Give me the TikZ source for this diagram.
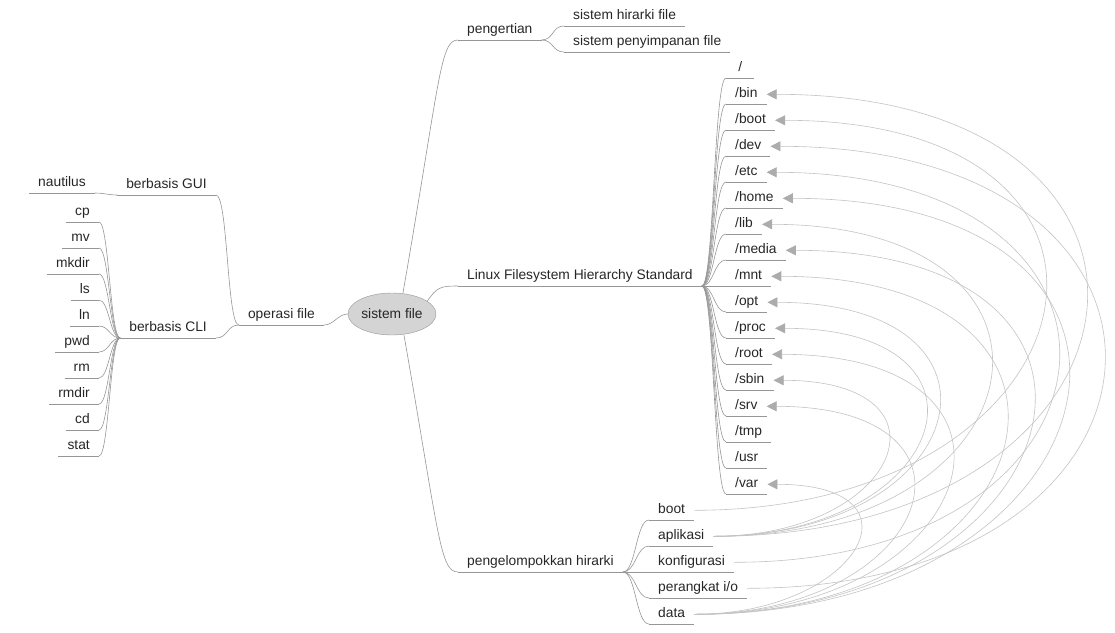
\documentclass[tikz,border=0pt]{standalone}
\usepackage{fontspec}
\setmainfont{Liberation Sans}
\definecolor{edgegray}{RGB}{150,150,150}
\definecolor{linkgray}{RGB}{195,195,195}
\definecolor{tipgray}{RGB}{172,172,172}
\definecolor{rootfill}{RGB}{212,212,212}
\usetikzlibrary{arrows.meta, shapes.geometric}

\begin{document}
\begin{tikzpicture}[x=1pt, y=-1pt,
  font=\fontsize{13.8}{16}\selectfont,
  branch/.style={draw=edgegray, line width=0.6pt},
  topic/.style={inner xsep=9pt, inner ysep=3pt, text height=10pt, text depth=3pt,
    minimum width=28pt, text=black!85,
    append after command={(\tikzlastnode.south west) edge[branch] (\tikzlastnode.south east)}},
  link/.style={draw=linkgray, line width=0.6pt,
    -{Triangle[length=10pt, width=10pt, color=tipgray]}}]
  \useasboundingbox (0,0) rectangle (1115,632);

  \node[ellipse, draw=edgegray, fill=rootfill, minimum width=88pt, minimum height=42pt,
    inner sep=0pt, text=black!85] (root) at (392,314) {sistem file};

  % kiri
  \node[topic, anchor=south east] (operasi) at (324,325) {operasi file};
  \node[topic, anchor=south east] (gui) at (216,195) {berbasis GUI};
  \node[topic, anchor=south east] (cli) at (216,338) {berbasis CLI};
  \node[topic, anchor=south east] (nautilus) at (95,193) {nautilus};
  \foreach \c [count=\i from 0] in {cp,mv,mkdir,ls,ln,pwd,rm,rmdir,cd,stat}
    \node[topic, anchor=south east] (\c) at (99,{222+26*\i}) {\c};

  % kanan
  \node[topic, anchor=south west] (pengertian) at (458,40) {pengertian};
  \node[topic, anchor=south west] (hirarki) at (564,26) {sistem hirarki file};
  \node[topic, anchor=south west] (penyimpanan) at (564,52) {sistem penyimpanan file};
  \node[topic, anchor=south west] (lfhs) at (458,286) {Linux Filesystem Hierarchy Standard};
  \node[topic, anchor=south west] (dslash) at (726,78) {/};
  \foreach \d [count=\i] in {bin,boot,dev,etc,home,lib,media,mnt,opt,proc,root,sbin,srv,tmp,usr,var}
    \node[topic, anchor=south west] (d\d) at (726,{78+26*\i}) {/\d};
  \node[topic, anchor=south west] (kelompok) at (458,572) {pengelompokkan hirarki};
  \node[topic, anchor=south west] (gboot) at (649,520) {boot};
  \node[topic, anchor=south west] (gapp) at (649,546) {aplikasi};
  \node[topic, anchor=south west] (gconf) at (649,572) {konfigurasi};
  \node[topic, anchor=south west] (gio) at (649,598) {perangkat i/o};
  \node[topic, anchor=south west] (gdata) at (649,624) {data};

  \draw[branch] ([xshift=11pt]root.north) .. controls +(37,-213) and +(-18,0) .. (pengertian.south west);
  \draw[branch] (root.20) .. controls +(10,-14) and +(-18,0) .. (lfhs.south west);
  \draw[branch] ([xshift=12pt]root.south) .. controls +(35,200) and +(-18,0) .. (kelompok.south west);
  \draw[branch] (root.west) .. controls +(-10,0) and +(10,0) .. (operasi.south east);

  \foreach \n in {gui,cli}
    \draw[branch] (operasi.south west) .. controls +(-12,0) and +(12,0) .. (\n.south east);
  \draw[branch] (gui.south west) .. controls +(-8,0) and +(8,0) .. (nautilus.south east);
  \foreach \c in {cp,mv,mkdir,ls,ln,pwd,rm,rmdir,cd,stat}
    \draw[branch] (cli.south west) .. controls +(-10,0) and +(10,0) .. (\c.south east);
  \foreach \n in {hirarki,penyimpanan}
    \draw[branch] (pengertian.south east) .. controls +(12,0) and +(-12,0) .. (\n.south west);
  \foreach \d in {slash,bin,boot,dev,etc,home,lib,media,mnt,opt,proc,root,sbin,srv,tmp,usr,var}
    \draw[branch] (lfhs.south east) .. controls +(12,0) and +(-12,0) .. (d\d.south west);
  \foreach \g in {gboot,gapp,gconf,gio,gdata}
    \draw[branch] (kelompok.south east) .. controls +(13,0) and +(-13,0) .. (\g.south west);

  % tautan kelompok -> direktori
  \foreach \s/\t/\d in {gapp/dbin/460, gboot/dboot/410, gio/ddev/460, gconf/detc/410,
      gdata/dhome/435, gapp/dlib/336, gdata/dmedia/386, gdata/dmnt/361, gapp/dopt/262,
      gapp/dproc/238, gdata/droot/287, gapp/dsbin/188, gdata/dsrv/238, gdata/dvar/164}
    \draw[link] (\s.east) .. controls +(\d,0) and +(\d,0) .. (\t.east);
\end{tikzpicture}
\end{document}
